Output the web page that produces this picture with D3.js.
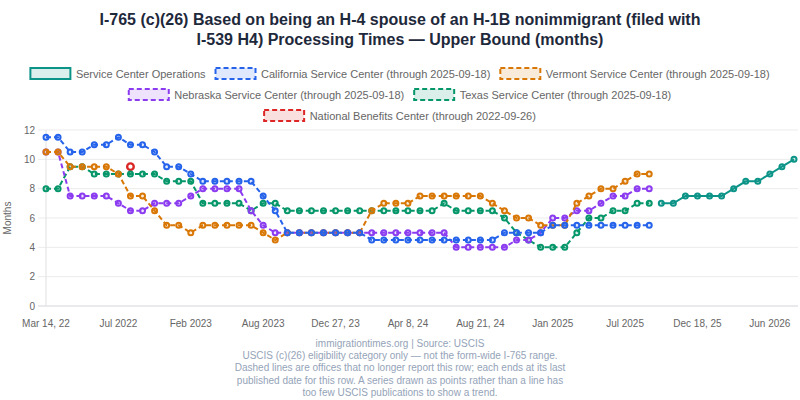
<!DOCTYPE html>
<html>
<head>
<meta charset="utf-8">
<script src="https://d3js.org/d3.v7.min.js"></script>
<style>
  body { margin: 0; background: #fff; }
  svg { display: block; font-family: Arial, "Liberation Sans", Helvetica, sans-serif; }
</style>
</head>
<body>
<div id="chart"></div>
<script>
  // x axis is a category axis: 63 USCIS publications, a label every 6th one
  const nCategories = 63;
  const tickLabels = ["Mar 14, 22", "Jul 2022", "Feb 2023", "Aug 2023", "Dec 27, 23", "Apr 8, 24",
    "Aug 21, 24", "Jan 2025", "Jul 2025", "Dec 18, 25", "Jun 2026"];
  const tickEvery = 6;

  // series values (months), each starting at a category index
  const operationsStart = 51;
  const operations = [7, 7, 7.5, 7.5, 7.5, 7.5, 8, 8.5, 8.5, 9, 9.5, 10];

  const californiaStart = 0;
  const california = [11.5, 11.5, 10.5, 10.5, 11, 11, 11.5, 11, 11, 10.5,
    9.5, 9.5, 9, 8.5, 8.5, 8.5, 8.5, 8.5, 7.5, 6.5,
    5, 5, 5, 5, 5, 5, 5, 4.5, 4.5, 4.5,
    4.5, 4.5, 4.5, 4.5, 4.5, 4.5, 4.5, 4.5, 5, 5,
    5, 5, 5.5, 5.5, 5.5, 5.5, 5.5, 5.5, 5.5, 5.5,
    5.5];

  const vermontStart = 0;
  const vermont = [10.5, 10.5, 9.5, 9.5, 9.5, 9.5, 9, 7.5, 7.5, 6.5,
    5.5, 5.5, 5, 5.5, 5.5, 5.5, 5.5, 5.5, 5, 4.5,
    5, 5, 5, 5, 5, 5, 5, 6.5, 7, 7,
    7, 7.5, 7.5, 7.5, 7.5, 7.5, 7.5, 7, 6.5, 6,
    6, 5.5, 5.5, 5.5, 7, 7.5, 8, 8, 8.5, 9,
    9];

  const nebraskaStart = 0;
  const nebraska = [10.5, 10.5, 7.5, 7.5, 7.5, 7.5, 7, 6.5, 6.5, 7,
    7, 7, 7.5, 8, 8, 8, 8, 6.5, 5.5, 5,
    5, 5, 5, 5, 5, 5, 5, 5, 5, 5,
    5, 5, 5, 5, 4, 4, 4, 4, 4, 4.5,
    4.5, 5, 6, 6, 6.5, 6.5, 7, 7.5, 7.5, 8,
    8];

  const texasStart = 0;
  const texas = [8, 8, 9.5, 9.5, 9, 9, 9, 9, 9, 9,
    8.5, 8.5, 8.5, 7, 7, 7, 7, 6.5, 7, 7,
    6.5, 6.5, 6.5, 6.5, 6.5, 6.5, 6.5, 6.5, 6.5, 6.5,
    6.5, 6.5, 6.5, 7, 6.5, 6.5, 6.5, 6.5, 6, 5,
    4.5, 4, 4, 4, 5, 6, 6, 6.5, 6.5, 7,
    7];

  const nbcStart = 7;
  const nbc = [9.5];

  const seriesNames = [
    "Service Center Operations",
    "California Service Center (through 2025-09-18)",
    "Vermont Service Center (through 2025-09-18)",
    "Nebraska Service Center (through 2025-09-18)",
    "Texas Service Center (through 2025-09-18)",
    "National Benefits Center (through 2022-09-26)"
  ];
  const seriesValues = [operations, california, vermont, nebraska, texas, nbc];
  const seriesStarts = [operationsStart, californiaStart, vermontStart, nebraskaStart, texasStart, nbcStart];
  const seriesColors = ["#0d9488", "#2563eb", "#d97706", "#8b3cf0", "#059669", "#dc2626"];
  const seriesDashed = [false, true, true, true, true, true];
  const legendRows = [[0, 1, 2], [3, 4], [5]];

  const yTicks = [0, 2, 4, 6, 8, 10, 12];

  const width = 800, height = 400;
  const plot = { left: 46, right: 794, top: 130, bottom: 306 };
  const dash = "5,3";

  const svg = d3.select("#chart").append("svg")
    .attr("width", width).attr("height", height);

  const x = d3.scalePoint()
    .domain(d3.range(nCategories))
    .range([plot.left, plot.right]);

  const y = d3.scaleLinear()
    .domain([0, 12])
    .range([plot.bottom, plot.top]);

  // title
  svg.append("text")
    .attr("text-anchor", "middle")
    .attr("font-size", 16).attr("font-weight", "bold").attr("fill", "#1e293b")
    .selectAll("tspan")
    .data(["I-765 (c)(26) Based on being an H-4 spouse of an H-1B nonimmigrant (filed with",
      "I-539 H4) Processing Times \u2014 Upper Bound (months)"])
    .enter().append("tspan")
    .attr("x", width / 2)
    .attr("y", (d, i) => 25 + i * 19.5)
    .text(d => d);

  // legend
  const legend = svg.append("g").attr("font-size", 11).attr("fill", "#666");
  legendRows.forEach((row, r) => {
    const rowG = legend.append("g");
    let cx = 0;
    row.forEach(si => {
      const item = rowG.append("g").attr("transform", `translate(${cx},0)`);
      item.append("rect")
        .attr("x", 0).attr("y", 68 + r * 21)
        .attr("width", 40).attr("height", 11)
        .attr("fill", seriesColors[si]).attr("fill-opacity", 0.15);
      item.append("rect")
        .attr("x", 0).attr("y", 68 + r * 21)
        .attr("width", 40).attr("height", 11)
        .attr("fill", "none")
        .attr("stroke", seriesColors[si]).attr("stroke-width", 2)
        .attr("stroke-dasharray", seriesDashed[si] ? dash : null);
      const t = item.append("text")
        .attr("x", 45.5).attr("y", 77.5 + r * 21)
        .text(seriesNames[si]);
      cx += 45.5 + t.node().getComputedTextLength() + 10;
    });
    const rowWidth = cx - 10;
    rowG.attr("transform", `translate(${(width - rowWidth) / 2},0)`);
  });

  // y grid + ticks
  const yAxis = svg.append("g");
  yAxis.selectAll("line")
    .data(yTicks)
    .enter().append("line")
    .attr("x1", plot.left - 8).attr("x2", 798)
    .attr("y1", d => y(d)).attr("y2", d => y(d))
    .attr("stroke", d => d === 0 ? "#d4d4d8" : "#ebebeb")
    .attr("stroke-width", 1);
  yAxis.selectAll("text")
    .data(yTicks)
    .enter().append("text")
    .attr("x", plot.left - 11)
    .attr("y", d => y(d) + 3.5)
    .attr("text-anchor", "end")
    .attr("font-size", 10).attr("fill", "#666")
    .text(d => d);
  svg.append("line")
    .attr("x1", plot.left).attr("x2", plot.left)
    .attr("y1", plot.top).attr("y2", plot.bottom)
    .attr("stroke", "#e0e0e0");

  svg.append("text")
    .attr("transform", `translate(11,${(plot.top + plot.bottom) / 2}) rotate(-90)`)
    .attr("text-anchor", "middle")
    .attr("font-size", 10).attr("fill", "#666")
    .text("Months");

  // x tick labels
  svg.append("g").selectAll("text")
    .data(tickLabels)
    .enter().append("text")
    .attr("x", (d, i) => x(i * tickEvery))
    .attr("y", 327)
    .attr("text-anchor", "middle")
    .attr("font-size", 10).attr("fill", "#666")
    .text(d => d);

  // series, last one drawn first so the first sits on top
  const line = d3.line()
    .x(d => x(d.i))
    .y(d => y(d.v));

  d3.range(seriesNames.length).reverse().forEach(si => {
    const pts = seriesValues[si].map((v, k) => ({ i: seriesStarts[si] + k, v: v }));
    const g = svg.append("g");
    if (pts.length > 1) {
      g.append("path")
        .datum(pts)
        .attr("d", line)
        .attr("fill", "none")
        .attr("stroke", seriesColors[si])
        .attr("stroke-width", 2)
        .attr("stroke-dasharray", seriesDashed[si] ? dash : null);
    }
    const single = pts.length === 1;
    g.selectAll("circle")
      .data(pts)
      .enter().append("circle")
      .attr("cx", d => x(d.i))
      .attr("cy", d => y(d.v))
      .attr("r", single ? 3.3 : 2.5)
      .attr("fill", single ? "#fff" : seriesColors[si])
      .attr("fill-opacity", single ? 0.9 : 0.15)
      .attr("stroke", seriesColors[si])
      .attr("stroke-width", single ? 2.4 : 2);
  });

  // footer
  svg.append("text")
    .attr("text-anchor", "middle")
    .attr("font-size", 10).attr("fill", "#94a3b8")
    .selectAll("tspan")
    .data(["immigrationtimes.org | Source: USCIS",
      "USCIS (c)(26) eligibility category only \u2014 not the form-wide I-765 range.",
      "Dashed lines are offices that no longer report this row; each ends at its last",
      "published date for this row. A series drawn as points rather than a line has",
      "too few USCIS publications to show a trend."])
    .enter().append("tspan")
    .attr("x", width / 2)
    .attr("y", (d, i) => 347 + i * 12.2)
    .text(d => d);
</script>
</body>
</html>
